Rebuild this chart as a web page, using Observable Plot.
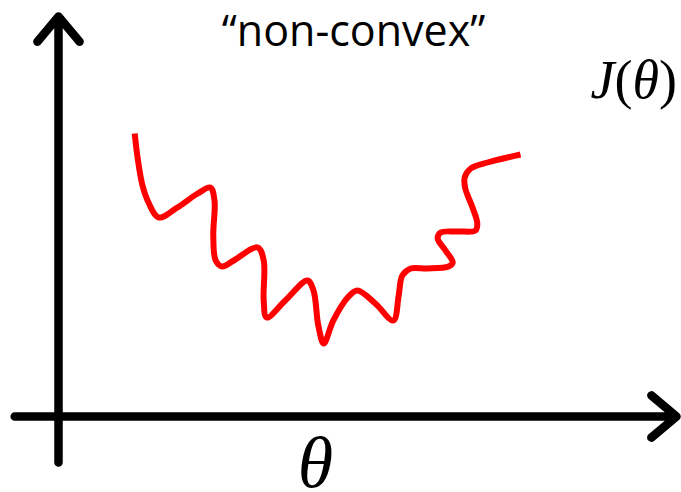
<!DOCTYPE html>
<html>
<head>
<meta charset="utf-8">
<script src="https://cdn.jsdelivr.net/npm/d3@7"></script>
<script src="https://cdn.jsdelivr.net/npm/@observablehq/plot@0.6"></script>
<style>
  html, body { margin: 0; padding: 0; background: #fff; }
  svg { display: block; }
</style>
</head>
<body>
<div id="chart"></div>
<script>
// A wiggly, non-convex cost curve J(θ) traced as an ordered path.
const theta = [12.7, 13.2, 14.0, 15.0, 16.7, 19.8, 23.2, 25.3, 26.0, 25.8, 26.2, 27.3, 29.2, 33.2, 34.2, 34.2, 34.7,
  37.8, 41.5, 42.5, 43.3, 44.2, 45.8, 48.2, 49.8, 52.8, 55.8, 56.7, 57.3, 58.7, 61.5, 65.0, 65.7, 64.5,
  63.2, 63.7, 66.5, 69.5, 69.8, 69.0, 67.8, 67.7, 68.7, 71.5, 77.0];
const cost = [70.75, 64.5, 57.75, 53.5, 49.75, 52.25, 55.75, 57.25, 54.0, 45.25, 39.0, 37.5, 39.0, 42.25, 39.0, 29.0, 24.75,
  29.0, 34.0, 31.5, 22.75, 18.25, 24.0, 29.75, 31.5, 28.25, 24.0, 30.25, 35.25, 37.0, 37.0, 37.5, 38.5, 41.5,
  44.5, 46.0, 46.25, 46.5, 48.25, 52.25, 57.0, 59.75, 62.0, 63.5, 65.5];

// Axis extents (in θ / J units) and labels
const thetaExtent = [-7.3, 103];
const costExtent = [-11.5, 100];
const titleText = "\u201Cnon-convex\u201D";
const yLabel = "J(θ)";
const xLabel = "θ";

const curve = theta.map((t, i) => ({theta: t, cost: cost[i]}));

const chart = Plot.plot({
  width: 681,
  height: 492,
  margin: 0,
  style: {background: "#fff"},
  x: {domain: [0, 100], range: [58, 658], axis: null},
  y: {domain: [0, 100], range: [416, 16], axis: null},
  marks: [
    // horizontal θ axis
    Plot.arrow([{}], {
      x1: () => thetaExtent[0], y1: () => 0, x2: () => thetaExtent[1], y2: () => 0,
      stroke: "#000", strokeWidth: 8.5, headLength: 5.8, headAngle: 80,
      strokeLinecap: "round", strokeLinejoin: "round"
    }),
    // vertical J axis
    Plot.arrow([{}], {
      x1: () => 0, y1: () => costExtent[0], x2: () => 0, y2: () => costExtent[1],
      stroke: "#000", strokeWidth: 8.5, headLength: 5.8, headAngle: 80,
      strokeLinecap: "round", strokeLinejoin: "round"
    }),
    Plot.line(curve, {
      x: "theta", y: "cost", curve: "catmull-rom",
      stroke: "#ff0000", strokeWidth: 6, strokeLinecap: "butt", strokeLinejoin: "round"
    }),
    Plot.text([titleText], {
      frameAnchor: "top-left", dx: 353, dy: 45, lineAnchor: "bottom", textAnchor: "middle",
      fontFamily: "Open Sans", fontSize: 43, fill: "#000", text: d => d
    }),
    Plot.text([yLabel], {
      frameAnchor: "top-left", dx: 590, dy: 97, lineAnchor: "bottom", textAnchor: "start",
      fontFamily: "Liberation Serif", fontSize: 54, fill: "#000", text: d => d, className: "y-label"
    }),
    Plot.text([xLabel], {
      frameAnchor: "top-left", dx: 315, dy: 486, lineAnchor: "bottom", textAnchor: "middle",
      fontFamily: "Liberation Serif", fontSize: 72, fontStyle: "italic", fill: "#000", text: d => d
    })
  ]
});

// Math-style label: italic symbols, upright parentheses
d3.select(chart).selectAll("g.y-label text").each(function() {
  const t = d3.select(this);
  t.text(null);
  t.append("tspan").attr("font-style", "italic").text("J");
  t.append("tspan").text("(");
  t.append("tspan").attr("font-style", "italic").text("θ");
  t.append("tspan").text(")");
});

document.getElementById("chart").appendChild(chart);
</script>
</body>
</html>
